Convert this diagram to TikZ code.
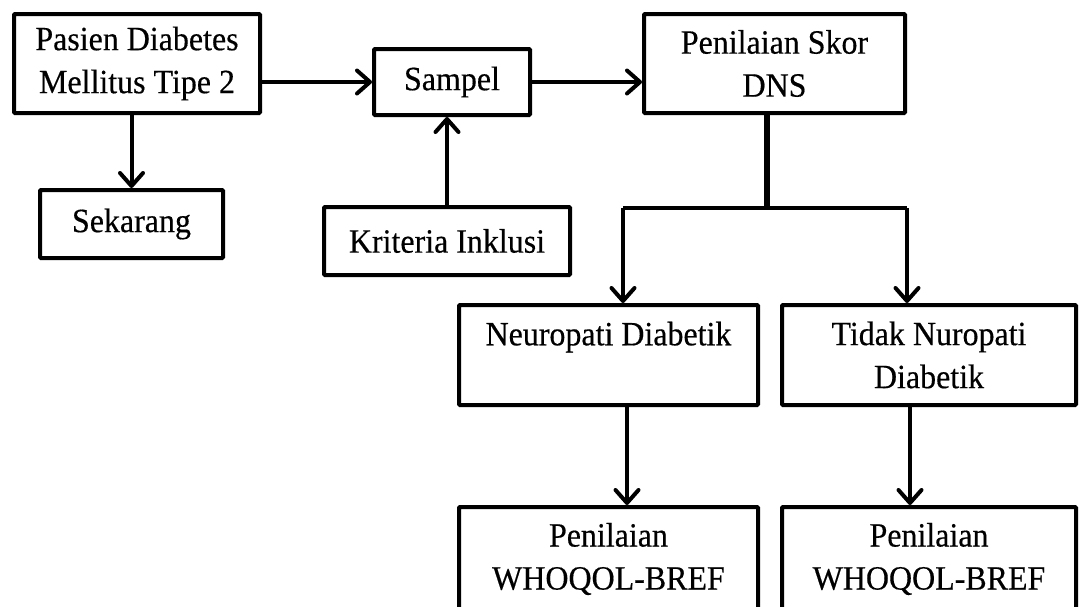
\documentclass[tikz,border=0pt]{standalone}
\usepackage{fontspec}
\setmainfont[FakeStretch=0.94,FakeBold=0.4]{Liberation Serif}
\usetikzlibrary{arrows.meta}
\begin{document}
\begin{tikzpicture}[x=1pt,y=-1pt,
  box/.style={draw,line width=4pt,rectangle,rounded corners=1pt,align=center,inner sep=0pt,
    font=\fontsize{34}{43}\selectfont},
  arr/.style={line width=4pt,-{Straight Barb[length=13pt,width=23pt,line cap=round,line join=round]}},
  ln/.style={line width=4pt}]
\useasboundingbox (0,0) rectangle (1082,606);
\node[box,minimum width=246pt,minimum height=99pt] (A) at (137,63.5) {Pasien Diabetes\\Mellitus Tipe 2};
\node[box,minimum width=183pt,minimum height=68pt] (B) at (131.5,224) {Sekarang};
\node[box,minimum width=156pt,minimum height=66pt] (C) at (452,82) {Sampel};
\node[box,minimum width=246pt,minimum height=68pt] (D) at (447,241) {Kriteria Inklusi};
\node[box,minimum width=261pt,minimum height=99pt] (E) at (774.5,63.5) {Penilaian Skor\\DNS};
\node[box,minimum width=299pt,minimum height=100pt] (F) at (608.5,355) {Neuropati Diabetik\\\mbox{}};
\node[box,minimum width=294pt,minimum height=100pt] (G) at (929,355) {Tidak Nuropati\\Diabetik};
\node[box,minimum width=299pt,minimum height=104pt] (H) at (608.5,559) {Penilaian\\WHOQOL-BREF};
\node[box,minimum width=294pt,minimum height=104pt] (I) at (929,559) {Penilaian\\WHOQOL-BREF};
\coordinate (split) at (767,208);
\coordinate (fl) at (623,208);
\coordinate (gr) at (907,208);
\coordinate (fd) at (627,0);
\coordinate (gd) at (910,0);
\draw[arr] (A.east |- C.west) -- (C.west);
\draw[arr] (B.north |- A.south) -- (B.north);
\draw[arr] (D.north) -- (D.north |- C.south);
\draw[arr] (C.east) -- (C.east -| E.west);
\draw[line width=6pt] (E.south -| split) -- (split);
\draw[ln,line cap=square] (fl) -- (gr);
\draw[arr] (fl) -- (fl |- F.north);
\draw[arr] (gr) -- (gr |- G.north);
\draw[arr] (fd |- F.south) -- (fd |- H.north);
\draw[arr] (gd |- G.south) -- (gd |- I.north);
\end{tikzpicture}
\end{document}
